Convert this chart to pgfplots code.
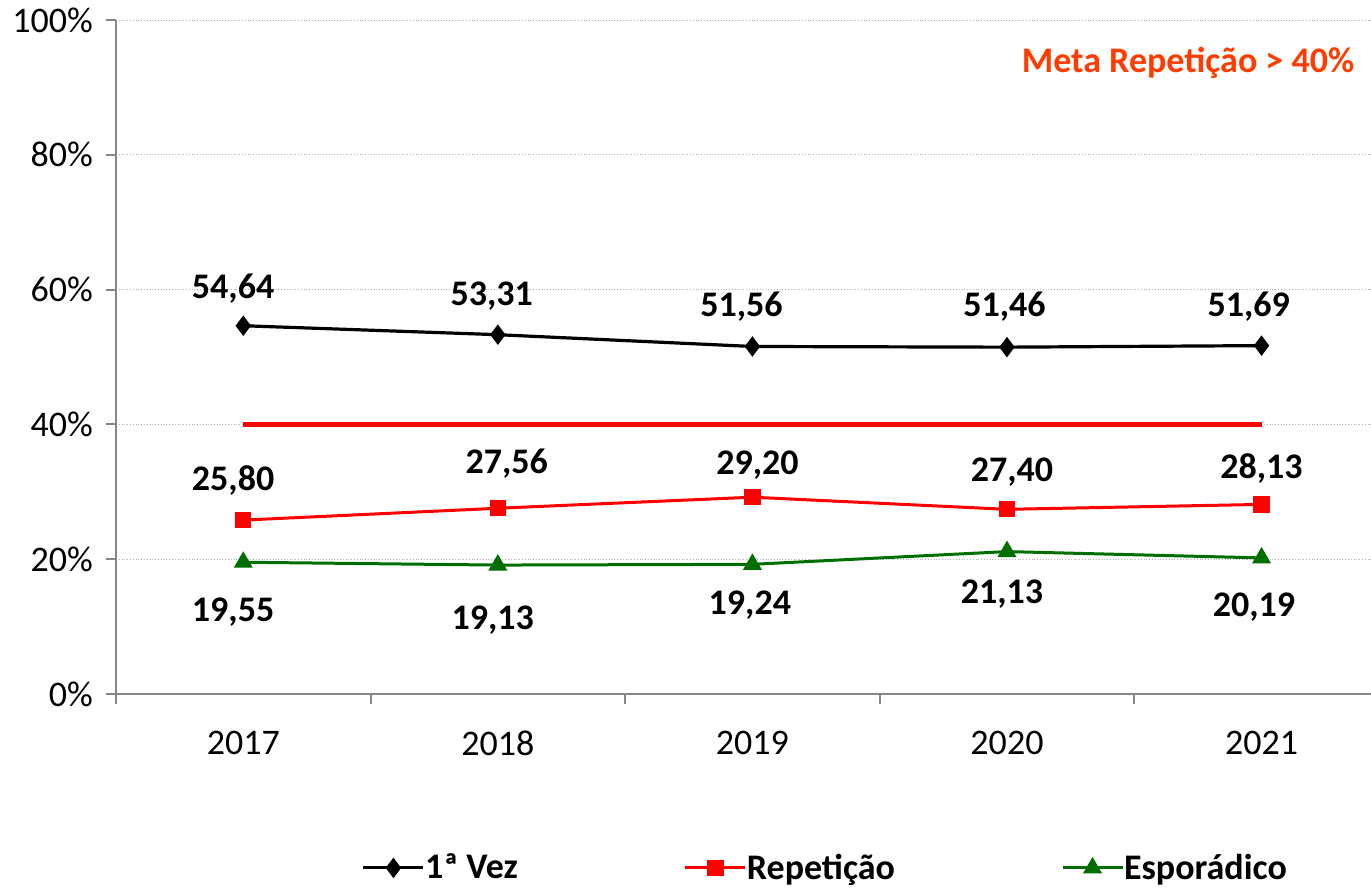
\documentclass[border=0pt]{standalone}
\usepackage{pgfplots}
\pgfplotsset{compat=1.18}
\usepackage{fontspec}
\setmainfont{Carlito}
\definecolor{axgray}{RGB}{134,134,134}
\definecolor{esp}{RGB}{0,110,0}
\definecolor{meta}{RGB}{255,60,0}
\newcommand{\fs}{\fontsize{18}{21}\selectfont}
\begin{document}
\begin{tikzpicture}[x=1pt,y=1pt]
\useasboundingbox (-58,-98) rectangle (627.5,347);
\begin{axis}[
  at={(0,0)}, anchor=south west,
  scale only axis, width=627.5pt, height=337pt,
  xmin=-0.5, xmax=4.43, ymin=0, ymax=100,
  axis x line*=bottom, axis y line*=left,
  axis line style={axgray, line width=1pt},
  ytick={0,20,...,100},
  yticklabel={\pgfmathprintnumber{\tick}\%},
  ymajorgrids, grid style={densely dotted, gray!60, line width=0.4pt},
  xtick={0,...,4}, xticklabels={2017,2018,2019,2020,2021},
  minor xtick={-0.5,0.5,1.5,2.5,3.5},
  major x tick style={draw=none},
  minor tick length=5pt, major tick length=5pt,
  tick align=outside,
  tick style={axgray, line width=1pt},
  every tick label/.append style={font=\fs},
  xticklabel style={yshift=-10pt},
  yticklabel style={xshift=-3pt},
  /pgf/number format/assume math mode=true,
  clip=false,
  legend columns=3,
  legend style={at={(0.566,-0.258)}, anchor=center, draw=none, font=\bfseries\fs,
    /tikz/every even column/.append style={column sep=81pt},
    /tikz/every odd column/.append style={column sep=-2pt}},
  legend image code/.code={\draw[mark repeat=2,mark phase=2] plot coordinates {(0pt,0pt)(15pt,0pt)(30pt,0pt)};},
]
\addplot[red, line width=2.5pt, forget plot] coordinates {(0,40)(4,40)};
\addplot[black, line width=1.6pt, mark=diamond*, mark size=3.8pt] coordinates {(0,54.64)(1,53.31)(2,51.56)(3,51.46)(4,51.69)};
\addlegendentry{1ª Vez}
\addplot[red, line width=1.5pt, mark=square*, mark size=3.3pt] coordinates {(0,25.80)(1,27.56)(2,29.20)(3,27.40)(4,28.13)};
\addlegendentry{Repetição}
\addplot[esp, line width=1.5pt, mark=triangle*, mark size=4pt] coordinates {(0,19.55)(1,19.13)(2,19.24)(3,21.13)(4,20.19)};
\addlegendentry{Esporádico}
\addplot[draw=none, mark=none, forget plot, nodes near coords, point meta=explicit symbolic,
  every node near coord/.style={anchor=center, font=\bfseries\fs, inner sep=0pt}]
  coordinates {(-0.04,60.09)[{54,64}] (0.976,59.05)[{53,31}] (1.957,57.42)[{51,56}] (2.99,57.42)[{51,46}] (3.95,57.42)[{51,69}]
  (-0.04,31.75)[{25,80}] (1.035,34.12)[{27,56}] (2.02,33.98)[{29,20}] (3.02,32.94)[{27,40}] (4.0,33.53)[{28,13}]
  (-0.04,12.17)[{19,55}] (0.98,10.98)[{19,13}] (1.99,13.2)[{19,24}] (2.98,14.84)[{21,13}] (3.97,12.91)[{20,19}]};
\node[anchor=east, text=meta, font=\bfseries\fs, inner sep=0pt] at (rel axis cs:0.987,0.936) {Meta Repetição > 40\%};
\end{axis}
\end{tikzpicture}
\end{document}
